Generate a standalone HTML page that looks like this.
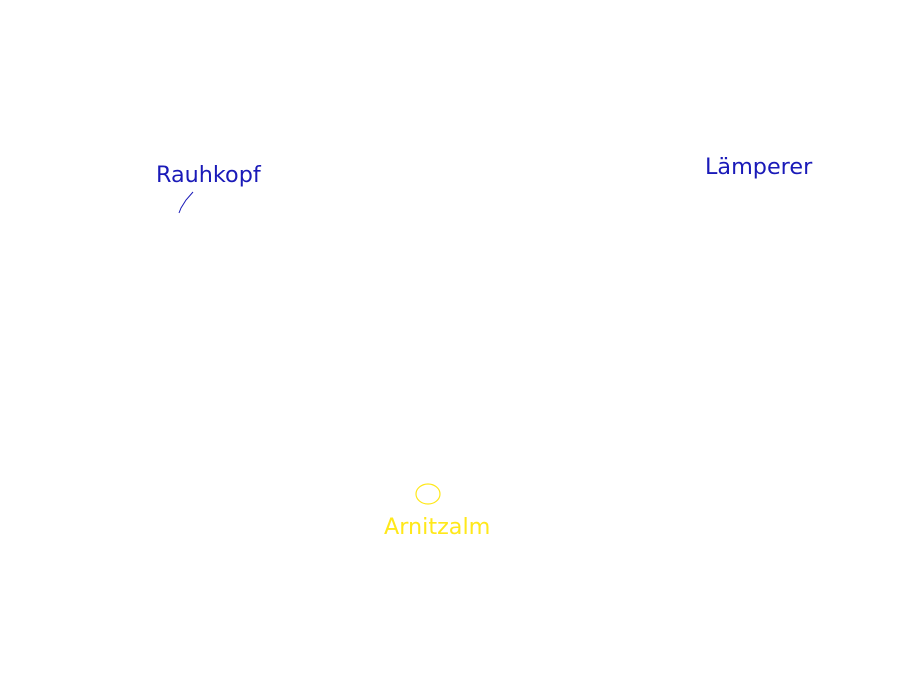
<!DOCTYPE html>
<html><head><style>
body{margin:0;width:900px;height:675px;background:#fff;overflow:hidden;position:relative;font-family:"DejaVu Sans",sans-serif}
.t{position:absolute;font-size:22.3px;line-height:1;white-space:nowrap}
</style></head><body>
<div class="t" style="left:156px;top:164px;color:#1a1ab8">Rauhkopf</div>
<div class="t" style="left:705px;top:156px;color:#1a1ab8">Lämperer</div>
<div class="t" style="left:384px;top:516px;color:#ffe81a">Arnitzalm</div>
<svg width="900" height="675" style="position:absolute;left:0;top:0">
<path d="M193 192 L186 200 L181 208 L179 213" stroke="#1a1ab8" stroke-width="1" fill="none"/>
<ellipse cx="428" cy="494" rx="12" ry="10" stroke="#ffe81a" stroke-width="1.2" fill="none"/>
</svg>
</body></html>
